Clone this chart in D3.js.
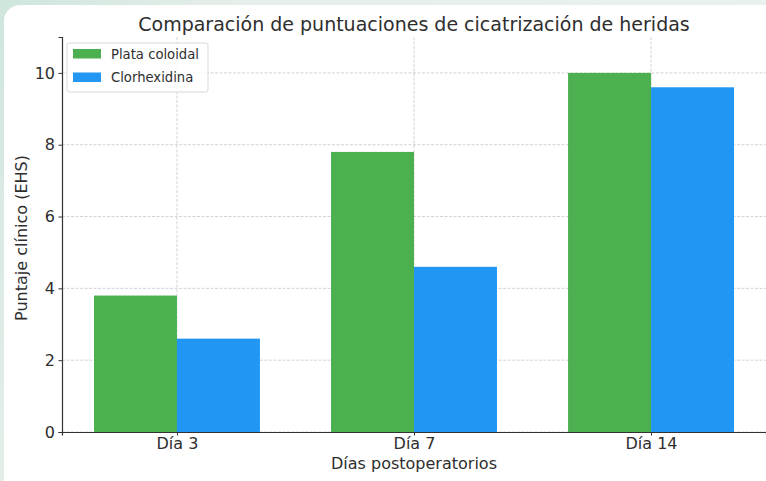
<!DOCTYPE html>
<html><head><meta charset="utf-8">
<script src="https://cdn.jsdelivr.net/npm/d3@7"></script>
<style>
html,body{margin:0;padding:0;background:#e4efe9;}
svg{display:block;font-family:"DejaVu Sans",sans-serif;}
</style></head>
<body>
<svg id="c" width="766" height="481"></svg>
<script>
const categories = ["Día 3", "Día 7", "Día 14"];
const seriesNames = ["Plata coloidal", "Clorhexidina"];
const plataValues = [3.8, 7.8, 10.0];
const clorValues = [2.6, 4.6, 9.6];
const yTicks = [0, 2, 4, 6, 8, 10];
const colors = ["#4caf50", "#2196f3"];

(function(){
const svg = d3.select("#c");
const W = 766, H = 481;
const txt = "#2e2e2e";

const defs = svg.append("defs");
const g1 = defs.append("linearGradient").attr("id","bg").attr("x1","0").attr("y1","0").attr("x2","1").attr("y2","0.3");
g1.append("stop").attr("offset","0").attr("stop-color","#cfe6dc");
g1.append("stop").attr("offset","0.3").attr("stop-color","#e6efe9");
g1.append("stop").attr("offset","1").attr("stop-color","#e9f1ec");
svg.append("rect").attr("width",W).attr("height",H).attr("fill","url(#bg)");
svg.append("rect").attr("x",4).attr("y",5).attr("width",W+20).attr("height",H+20).attr("rx",16).attr("fill","#ffffff");

const mLeft = 62, mRight = 766, mTop = 37, mBottom = 432;
const x = d3.scaleLinear().domain([-0.485, 2.485]).range([mLeft, mRight]);
const y = d3.scaleLinear().domain([0, 11]).range([mBottom, mTop]);
const bw = 0.35;

const grid = svg.append("g");
grid.selectAll("line.h").data(yTicks).join("line")
  .attr("x1", mLeft).attr("x2", mRight)
  .attr("y1", d => y(d)).attr("y2", d => y(d))
  .attr("stroke", "#b0b0b0").attr("stroke-opacity",0.7).attr("stroke-width",0.8).attr("stroke-dasharray","3,1.5");
grid.selectAll("line.v").data(categories).join("line")
  .attr("x1", (d,i) => x(i)).attr("x2", (d,i) => x(i))
  .attr("y1", mTop).attr("y2", mBottom)
  .attr("stroke", "#b0b0b0").attr("stroke-opacity",0.7).attr("stroke-width",0.8).attr("stroke-dasharray","3,1.5");

const series = [plataValues, clorValues];
series.forEach((vals, s) => {
  svg.append("g").selectAll("rect").data(vals).join("rect")
    .attr("x", (d,i) => x(i + (s === 0 ? -bw : 0)))
    .attr("width", x(bw) - x(0))
    .attr("y", d => y(d))
    .attr("height", d => y(0) - y(d))
    .attr("fill", colors[s]);
});

const xAxis = d3.axisBottom(x).tickValues([0,1,2]).tickFormat(i => categories[i]).tickSize(3.5).tickPadding(2);
const gx = svg.append("g").attr("transform", `translate(0,${mBottom})`).call(xAxis);
gx.select(".domain").attr("stroke","#333").attr("stroke-width",1.2);
gx.selectAll(".tick line").attr("stroke","#333");
gx.selectAll("text").attr("font-size",16).attr("fill",txt).attr("font-family","DejaVu Sans");

const yAxis = d3.axisLeft(y).tickValues(yTicks).tickSize(3.5).tickPadding(3.5);
const gy = svg.append("g").attr("transform", `translate(${mLeft},0)`).call(yAxis);
gy.select(".domain").attr("stroke","#333").attr("stroke-width",1.2);
gy.selectAll(".tick line").attr("stroke","#333");
gy.selectAll("text").attr("font-size",16).attr("fill",txt).attr("font-family","DejaVu Sans");

svg.append("text").attr("x", 414).attr("y", 31).attr("text-anchor","middle")
  .attr("font-size",19).attr("fill",txt).text("Comparación de puntuaciones de cicatrización de heridas");
svg.append("text").attr("x", 414).attr("y", 469).attr("text-anchor","middle")
  .attr("font-size",16).attr("fill",txt).text("Días postoperatorios");
svg.append("text").attr("transform","translate(27,238) rotate(-90)").attr("text-anchor","middle")
  .attr("font-size",16).attr("fill",txt).text("Puntaje clínico (EHS)");

const lg = svg.append("g");
lg.append("rect").attr("x",67).attr("y",43).attr("width",141).attr("height",49).attr("rx",2.5)
  .attr("fill","#fff").attr("fill-opacity",0.8).attr("stroke","#d8d8d8").attr("stroke-width",1);
seriesNames.forEach((n,i) => {
  lg.append("rect").attr("x",73).attr("y",49 + i*23.5).attr("width",28).attr("height",9.5).attr("fill",colors[i]);
  lg.append("text").attr("x",111).attr("y",58.5 + i*23.5).attr("font-size",13.2).attr("fill",txt).text(n);
});
})();
</script>
</body></html>
